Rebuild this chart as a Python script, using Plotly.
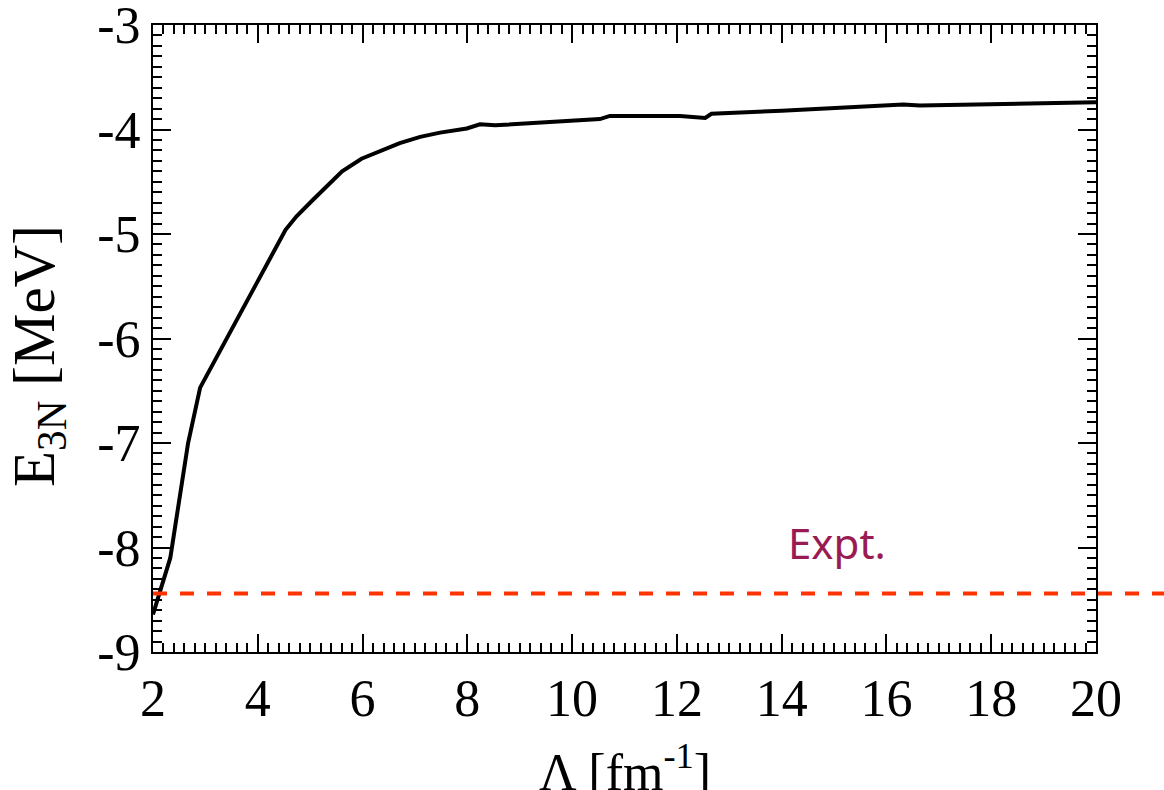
import plotly.graph_objects as go

# Curve: E_3N vs cutoff Lambda
lam = [2.0, 2.33, 2.67, 2.90, 4.53, 4.74, 5.06, 5.61, 5.98, 6.33, 6.71, 7.10, 7.48,
       7.99, 8.24, 8.53, 10.53, 10.72, 12.06, 12.54, 12.66, 14.0, 16.32, 16.64, 20.0]
e3n = [-8.64, -8.10, -7.00, -6.47, -4.96, -4.83, -4.67, -4.40, -4.28, -4.21, -4.13, -4.07, -4.03,
       -3.99, -3.95, -3.96, -3.90, -3.87, -3.87, -3.89, -3.85, -3.82, -3.76, -3.77, -3.74]

expt_value = -8.44
expt_label = "Expt."

x_tickvals = [2, 4, 6, 8, 10, 12, 14, 16, 18, 20]
x_ticktext = ["2", "4", "6", "8", "10", "12", "14", "16", "18", "20"]
y_tickvals = [-9, -8, -7, -6, -5, -4, -3]
y_ticktext = ["-9", "-8", "-7", "-6", "-5", "-4", "-3"]

serif = "Liberation Serif, Times New Roman, serif"
fs = 52

fig = go.Figure()
fig.add_trace(go.Scatter(x=lam, y=e3n, mode="lines",
                         line=dict(color="black", width=4), showlegend=False))

# Experimental line, extending past the right frame
fig.add_shape(type="line", xref="paper", yref="y", x0=0, x1=1.075,
              y0=expt_value, y1=expt_value,
              line=dict(color="#ff3300", width=4, dash="14px,13px"))

fig.add_annotation(x=15.05, y=-7.95, xref="x", yref="y", text=expt_label,
                   showarrow=False, font=dict(family="Noto Sans", size=42, color="#9a1a52"))

axis_common = dict(showline=True, linecolor="black", linewidth=2, mirror="allticks",
                   ticks="inside", ticklen=18, tickwidth=2, tickcolor="black",
                   showgrid=False, zeroline=False, ticklabeloverflow="allow", automargin=False,
                   tickfont=dict(family=serif, size=fs, color="black"))

fig.update_xaxes(range=[2, 20], tickmode="array", tickvals=x_tickvals, ticktext=x_ticktext,
                 minor=dict(dtick=0.2, ticks="inside", ticklen=9, tickwidth=2, tickcolor="black",
                            showgrid=False),
                 **axis_common)
fig.update_yaxes(range=[-9, -3], tickmode="array", tickvals=y_tickvals, ticktext=y_ticktext,
                 minor=dict(dtick=0.1, ticks="inside", ticklen=9, tickwidth=2, tickcolor="black",
                            showgrid=False),
                 **axis_common)

# Axis titles as annotations for precise placement
fig.add_annotation(x=0.5, y=-0.186, xref="paper", yref="paper", text="Λ [fm<sup>-1</sup>]",
                   showarrow=False, yanchor="middle",
                   font=dict(family=serif, size=fs, color="black"))
fig.add_annotation(x=-0.122, y=0.472, xref="paper", yref="paper", text="E<sub>3N</sub> [MeV]",
                   showarrow=False, textangle=-90, xanchor="center", yanchor="middle",
                   font=dict(family=serif, size=59, color="black"))

fig.update_layout(width=1164, height=790, margin=dict(l=153, r=68, t=25, b=138),
                  plot_bgcolor="white", paper_bgcolor="white")

fig.write_html("out.html")
